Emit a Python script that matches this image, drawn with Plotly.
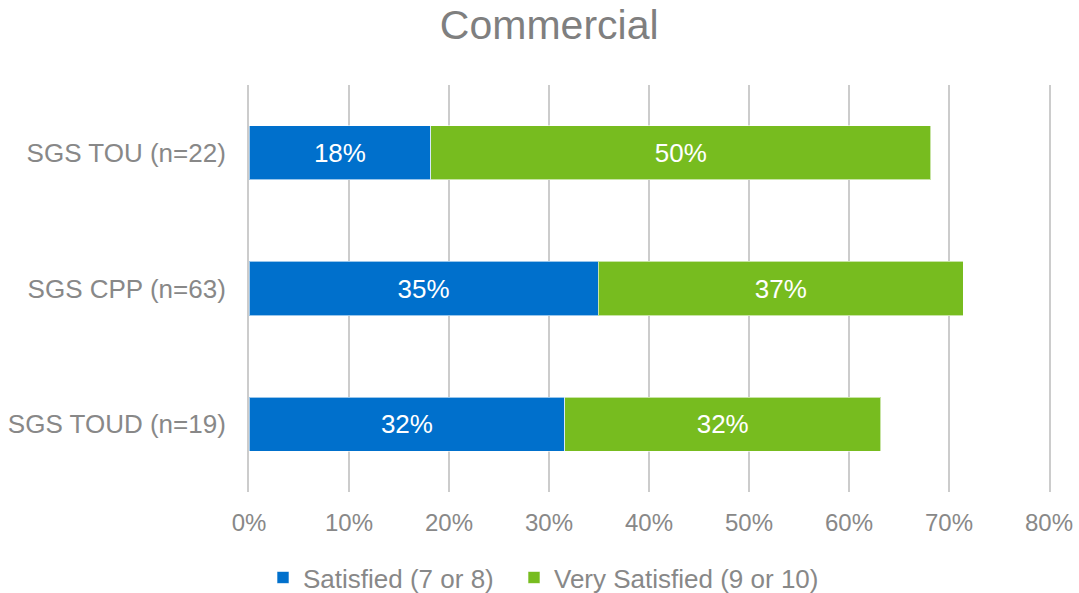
import plotly.graph_objects as go

# Commercial customer satisfaction by rate (share of respondents)
categories = ["SGS TOU (n=22)", "SGS CPP (n=63)", "SGS TOUD (n=19)"]
satisfied = [4 / 22, 22 / 63, 6 / 19]          # 7 or 8
very_satisfied = [11 / 22, 23 / 63, 6 / 19]    # 9 or 10
x_ticks = [0, 0.1, 0.2, 0.3, 0.4, 0.5, 0.6, 0.7, 0.8]

BLUE = "#0070CC"
GREEN = "#77BC1F"
GREY_TEXT = "#888888"
GRID = "#cccccc"
FONT = "Liberation Sans, Arial, sans-serif"

fig = go.Figure()
fig.add_trace(go.Bar(
    y=categories, x=satisfied, name="Satisfied (7 or 8)", orientation="h",
    marker=dict(color=BLUE, line=dict(color="rgba(255,255,255,0.6)", width=1)),
    texttemplate="%{x:.0%}", textposition="inside", insidetextanchor="middle",
    textfont=dict(color="white", size=26, family=FONT),
    legend="legend",
))
fig.add_trace(go.Bar(
    y=categories, x=very_satisfied, name="Very Satisfied (9 or 10)", orientation="h",
    marker=dict(color=GREEN, line=dict(color="rgba(255,255,255,0.6)", width=1)),
    texttemplate="%{x:.0%}", textposition="inside", insidetextanchor="middle",
    textfont=dict(color="white", size=26, family=FONT),
    legend="legend2",
))

legend_style = dict(orientation="h", xref="container", yref="container",
                    xanchor="left", y=0.026, yanchor="middle",
                    font=dict(size=26, color=GREY_TEXT), itemwidth=30,
                    bgcolor="rgba(0,0,0,0)")

fig.update_layout(
    width=1079, height=593,
    barmode="stack", bargap=0.6, showlegend=True,
    plot_bgcolor="white", paper_bgcolor="white",
    margin=dict(l=249, r=30, t=85, b=101, autoexpand=False),
    font=dict(family=FONT, color=GREY_TEXT, size=24),
    title=dict(text="Commercial", x=0.509, xanchor="center", y=0.958, yanchor="middle",
               font=dict(size=41, color="#7f7f7f", family=FONT)),
    uniformtext=dict(mode="show", minsize=10),
    legend=dict(x=263 / 1079, **legend_style),
    legend2=dict(x=514 / 1079, **legend_style),
)
fig.update_xaxes(
    range=[0, 0.8], tickvals=x_ticks, tickformat=".0%",
    showgrid=True, gridcolor=GRID, gridwidth=2,
    zeroline=False, showline=False, automargin=False,
    ticks="outside", ticklen=9, tickcolor="rgba(0,0,0,0)",
    tickfont=dict(size=24, color=GREY_TEXT),
)
fig.update_yaxes(
    autorange="reversed", showgrid=False, zeroline=False,
    showline=True, linecolor=GRID, linewidth=2, mirror=True, automargin=False,
    ticks="outside", ticklen=16, tickcolor="rgba(0,0,0,0)",
    tickfont=dict(size=26, color=GREY_TEXT),
)

fig.write_html("out.html")
